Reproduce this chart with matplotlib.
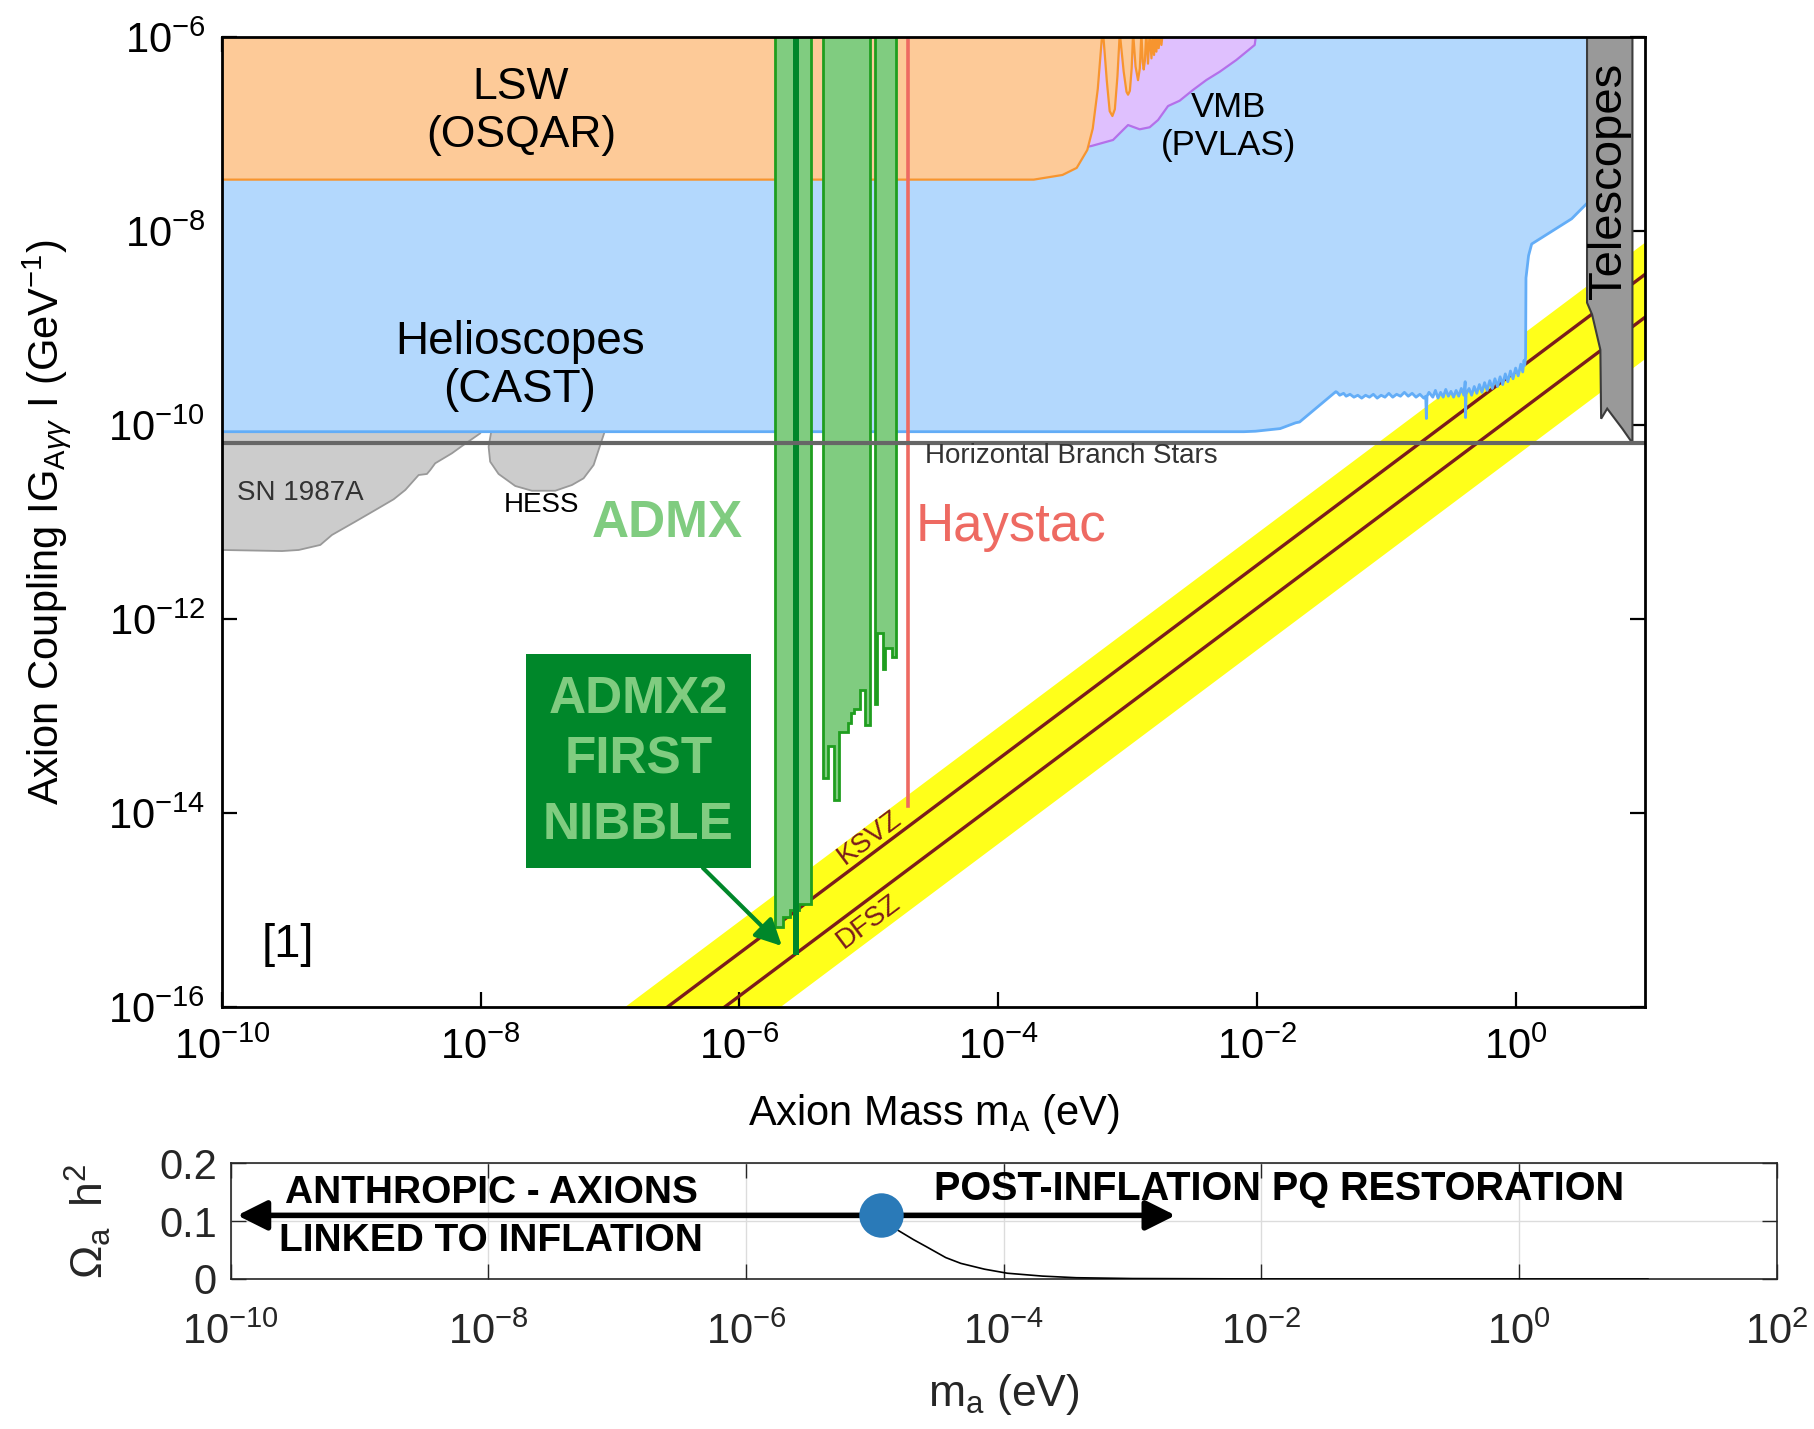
import numpy as np
import matplotlib
matplotlib.use("Agg")
import matplotlib.pyplot as plt
from matplotlib.patches import Polygon, Rectangle

plt.rcParams["font.family"] = ["Liberation Sans", "DejaVu Sans"]
plt.rcParams["mathtext.fontset"] = "custom"
plt.rcParams["mathtext.rm"] = "Liberation Sans"
plt.rcParams["mathtext.it"] = "Liberation Sans:italic"
plt.rcParams["mathtext.bf"] = "Liberation Sans:bold"
plt.rcParams["axes.unicode_minus"] = False

# ---------------- exclusion plot (log10 mass [eV], log10 coupling [1/GeV]) ----
mass_ticks = [1e-10, 1e-8, 1e-6, 1e-4, 1e-2, 1e0]
mass_tick_labels = [r"$10^{-10}$", r"$10^{-8}$", r"$10^{-6}$",
                    r"$10^{-4}$", r"$10^{-2}$", r"$10^{0}$"]
coupling_ticks = [1e-16, 1e-14, 1e-12, 1e-10, 1e-8, 1e-6]
coupling_tick_labels = [r"$10^{-16}$", r"$10^{-14}$", r"$10^{-12}$",
                        r"$10^{-10}$", r"$10^{-8}$", r"$10^{-6}$"]

# Light shining through wall (OSQAR) lower edge
lsw_logm = [-10.0, -3.725, -3.503, -3.393, -3.311, -3.269, -3.230, -3.199,
            -3.189, -3.160, -3.138, -3.117, -3.098, -3.078, -3.060,
            -3.030, -3.008, -2.996, -2.982, -2.968, -2.957,
            -2.938, -2.919, -2.905, -2.893,
            -2.883, -2.875, -2.866, -2.855,
            -2.842, -2.829, -2.815, -2.804, -2.795, -2.786,
            -2.777, -2.768, -2.759, -2.749, -2.738, -2.728, -2.718]
lsw_logg = [-7.466, -7.466, -7.418, -7.345, -7.160, -6.940, -6.531, -6.015,
            -5.95, -6.45, -6.76, -6.81, -6.74, -6.40, -5.95,
            -6.35, -6.56, -6.59, -6.55, -6.32, -5.95,
            -6.30, -6.44, -6.32, -5.95,
            -6.25, -6.33, -6.24, -5.95,
            -6.27, -5.95, -6.215, -5.95, -6.18, -5.95,
            -6.146, -5.95, -6.11, -5.95, -6.077, -5.95, -5.95]

# Vacuum magnetic birefringence (PVLAS) lower edge
vmb_logm = [-3.32, -3.279, -3.112, -3.035, -2.996, -2.906, -2.829, -2.764,
            -2.687, -2.597, -2.494, -2.390, -2.287, -2.159, -2.017, -2.004]
vmb_logg = [-7.13, -7.119, -7.057, -6.954, -6.903, -6.947, -6.926, -6.851,
            -6.707, -6.652, -6.541, -6.438, -6.353, -6.232, -6.077, -5.95]

# Helioscope (CAST) lower edge
cast_logm = [-10.0, -2.10, -2.01, -1.82, -1.70, -1.67, -1.39,
             -1.38, -1.36, -1.33, -1.31, -1.28, -1.25, -1.22, -1.19, -1.16,
             -1.13, -1.10, -1.07, -1.04, -1.01, -0.98, -0.95, -0.92, -0.89,
             -0.86, -0.83, -0.80, -0.77, -0.74, -0.71, -0.695, -0.69, -0.685,
             -0.67, -0.64, -0.62, -0.60, -0.58, -0.56, -0.54, -0.52, -0.50,
             -0.48, -0.46, -0.44, -0.42, -0.40, -0.39, -0.387, -0.383, -0.36,
             -0.34, -0.32, -0.30, -0.28, -0.26, -0.24, -0.22, -0.20, -0.18,
             -0.16, -0.14, -0.12, -0.10, -0.08, -0.06, -0.04, -0.02, 0.00,
             0.02, 0.04, 0.055, 0.065, 0.07, 0.077, 0.08, 0.10, 0.124,
             0.433, 0.552]
cast_logg = [-10.066, -10.066, -10.061, -10.034, -9.974, -9.966, -9.653,
             -9.66, -9.69, -9.67, -9.70, -9.68, -9.71, -9.69, -9.72, -9.69,
             -9.71, -9.68, -9.72, -9.69, -9.71, -9.67, -9.71, -9.68, -9.70,
             -9.66, -9.70, -9.67, -9.71, -9.68, -9.72, -9.70, -9.93, -9.70,
             -9.66, -9.71, -9.64, -9.72, -9.66, -9.71, -9.63, -9.70, -9.65,
             -9.71, -9.64, -9.70, -9.62, -9.69, -9.55, -9.92, -9.68, -9.62,
             -9.69, -9.60, -9.67, -9.58, -9.66, -9.56, -9.64, -9.54, -9.62,
             -9.52, -9.60, -9.50, -9.58, -9.47, -9.55, -9.44, -9.52, -9.41,
             -9.49, -9.37, -9.45, -9.33, -9.38, -9.30, -8.48, -8.25, -8.13,
             -7.87, -7.71]

# Telescope searches
tel_logm = [0.552, 0.552, 0.591, 0.655, 0.661, 0.708, 0.825, 0.889, 0.903, 0.903]
tel_logg = [-5.0, -8.735, -8.857, -9.220, -9.932, -9.828, -10.035, -10.157,
            -10.157, -5.0]

# SN 1987A and HESS astrophysical bounds
sn_logm = [-10.0, -9.536, -9.407, -9.240, -9.150, -8.970, -8.815, -8.673,
           -8.583, -8.480, -8.416, -8.390, -8.352, -8.223, -8.145, -8.004,
           -7.95, -10.0]
sn_logg = [-11.286, -11.297, -11.286, -11.234, -11.131, -10.994, -10.874,
           -10.763, -10.667, -10.513, -10.502, -10.461, -10.392, -10.289,
           -10.214, -10.083, -9.95, -9.95]
hess_logm = [-7.919, -7.939, -7.927, -7.862, -7.733, -7.604, -7.424, -7.295,
             -7.205, -7.127, -7.076, -7.042, -7.03, -7.93]
hess_logg = [-10.066, -10.221, -10.375, -10.502, -10.626, -10.675, -10.675,
             -10.616, -10.547, -10.409, -10.203, -10.066, -9.95, -9.95]

# Horizontal branch star bound
hb_coupling = 6.5e-11

# QCD axion model band and benchmark lines
band_mass = [1e-10, 10.0]
band_upper = [7.8e-20, 7.8e-9]
band_lower = [4.9e-21, 4.9e-10]
ksvz_coupling = [3.6e-20, 3.6e-9]
dfsz_coupling = [1.3e-20, 1.3e-9]

# ADMX excluded bands: step edges and floors
admx_bar_edges = [
    [-5.726, -5.662, -5.611, -5.540, -5.448],
    [-5.356, -5.315, -5.268, -5.230, -5.160, -5.139, -5.114, -5.070, -5.031, -4.992],
    [-4.954, -4.936, -4.894, -4.871, -4.817, -4.786],
]
admx_bar_floors = [
    [-15.17, -15.07, -15.00, -14.94],
    [-13.641, -13.308, -13.865, -13.160, -13.071, -12.964, -12.926, -12.730, -13.091],
    [-12.875, -12.139, -12.514, -12.300, -12.393],
]
admx2_edges = [-5.585, -5.540]
admx2_floor = -15.46
haystac_logm = -4.699
haystac_floor = -13.93

# ---------------- relic density panel ----------------
omega_mass_ticks = [1e-10, 1e-8, 1e-6, 1e-4, 1e-2, 1e0, 1e2]
omega_mass_labels = [r"$10^{-10}$", r"$10^{-8}$", r"$10^{-6}$", r"$10^{-4}$",
                     r"$10^{-2}$", r"$10^{0}$", r"$10^{2}$"]
omega_ticks = [0.0, 0.1, 0.2]
omega_tick_labels = ["0", "0.1", "0.2"]
curve_logm = [-4.951, -4.827, -4.70, -4.602, -4.45, -4.333, -4.15, -3.973,
              -3.70, -3.437, -3.0, -2.0, -1.0, 0.0, 1.0]
curve_omega = [0.110, 0.085, 0.068, 0.056, 0.037, 0.027, 0.017, 0.010,
               0.005, 0.0022, 0.0008, 0.0001, 0.0, 0.0, 0.0]
marker_logm = -4.951
marker_omega = 0.11
arrow_logm = [-9.949, -2.667]
arrow_omega = 0.11


def pts(logm, logg):
    return np.column_stack([10.0 ** np.asarray(logm), 10.0 ** np.asarray(logg)])


def closed_above(logm, logg, top=-5.0):
    m = list(logm) + [logm[-1], logm[0]]
    g = list(logg) + [top, top]
    return pts(m, g)


def step_bar(edges, floors, top=-5.0):
    m = [edges[0]]
    g = [top]
    for i, f in enumerate(floors):
        m += [edges[i], edges[i + 1]]
        g += [f, f]
    m.append(edges[-1])
    g.append(top)
    return pts(m, g)


fig = plt.figure(figsize=(18.15, 14.29), dpi=100)
ax = fig.add_axes([0.12231, 0.29531, 0.78402, 0.67845])
ax.set_xscale("log")
ax.set_yscale("log")
ax.set_xlim(1e-10, 10.0)
ax.set_ylim(1e-16, 1e-6)

C_BLUE, C_BLUE_E = "#b3d8fd", "#63adf7"
C_ORANGE, C_ORANGE_E = "#fdca98", "#f7952f"
C_PURPLE, C_PURPLE_E = "#dfc0fe", "#b470ea"
C_GREEN, C_GREEN_E, C_DGREEN = "#80cc80", "#1f9e1f", "#00872a"

# model band
ax.fill_between(band_mass, band_lower, band_upper, color="#ffff1a", lw=0, zorder=1)
ax.plot(band_mass, ksvz_coupling, color="#7b1c1c", lw=2.4, zorder=2)
ax.plot(band_mass, dfsz_coupling, color="#7b1c1c", lw=2.4, zorder=2)

# astrophysics
ax.add_patch(Polygon(pts(sn_logm, sn_logg), closed=True, fc="#cccccc",
                     ec="#999999", lw=1.3, zorder=3))
ax.add_patch(Polygon(pts(hess_logm, hess_logg), closed=True, fc="#cccccc",
                     ec="#999999", lw=1.3, zorder=3))

# helioscopes
ax.add_patch(Polygon(closed_above(cast_logm, cast_logg), closed=True,
                     fc=C_BLUE, ec="none", zorder=4))
ax.plot(10.0 ** np.array(cast_logm), 10.0 ** np.array(cast_logg),
        color=C_BLUE_E, lw=2.0, zorder=4.1)

# VMB
ax.add_patch(Polygon(closed_above(vmb_logm, vmb_logg), closed=True,
                     fc=C_PURPLE, ec="none", zorder=5))
ax.plot(10.0 ** np.array(vmb_logm), 10.0 ** np.array(vmb_logg),
        color=C_PURPLE_E, lw=1.6, zorder=5.1)

# LSW
ax.add_patch(Polygon(closed_above(lsw_logm, lsw_logg), closed=True,
                     fc=C_ORANGE, ec="none", zorder=6))
ax.plot(10.0 ** np.array(lsw_logm), 10.0 ** np.array(lsw_logg),
        color=C_ORANGE_E, lw=1.6, zorder=6.1)

# telescopes
ax.add_patch(Polygon(pts(tel_logm, tel_logg), closed=True, fc="#999999",
                     ec="#3c3c3c", lw=1.5, zorder=7))

# ADMX
for edges, floors in zip(admx_bar_edges, admx_bar_floors):
    ax.add_patch(Polygon(step_bar(edges, floors), closed=True, fc=C_GREEN,
                         ec=C_GREEN_E, lw=2.0, zorder=8))
ax.add_patch(Polygon(step_bar(admx2_edges, [admx2_floor]), closed=True,
                     fc=C_DGREEN, ec="none", zorder=8.5))

# HAYSTAC
ax.plot([10 ** haystac_logm] * 2, [10 ** haystac_floor, 1e-5],
        color="#ee6a62", lw=2.6, zorder=9)

# horizontal branch line
ax.axhline(hb_coupling, color="#666666", lw=3.0, zorder=10)

# axes styling
ax.set_xticks(mass_ticks)
ax.set_xticklabels(mass_tick_labels)
ax.set_yticks(coupling_ticks)
ax.set_yticklabels(coupling_tick_labels)
ax.minorticks_off()
ax.tick_params(which="both", direction="in", top=True, right=True,
               length=11, width=1.6, labelsize=30, color="k")
ax.tick_params(axis="x", pad=15)
ax.tick_params(axis="y", pad=12)
for s in ax.spines.values():
    s.set_linewidth(2.0)
    s.set_zorder(20)
ax.set_xlabel(r"Axion Mass m$_{\mathrm{A}}$ (eV)", fontsize=30)
ax.xaxis.set_label_coords(0.5, -0.088)
ax.set_ylabel(r"Axion Coupling IG$_{\mathrm{A}\gamma\gamma}$ I (GeV$^{-1}$)",
              fontsize=30)
ax.yaxis.set_label_coords(-0.105, 0.5)

# region labels
def lab(logm, logg, s, **kw):
    ax.text(10 ** logm, 10 ** logg, s, ha="center", va="center", zorder=15, **kw)

lab(-7.689, -6.52, "LSW", fontsize=32)
lab(-7.689, -7.01, "(OSQAR)", fontsize=32)
lab(-7.697, -9.14, "Helioscopes", fontsize=33)
lab(-7.697, -9.635, "(CAST)", fontsize=33)
lab(-2.218, -6.717, "VMB", fontsize=25)
lab(-2.218, -7.109, "(PVLAS)", fontsize=25)
lab(0.719, -7.480, "Telescopes", fontsize=34, rotation=90)
lab(-9.397, -10.698, "SN 1987A", fontsize=20, color="#333333")
lab(-7.527, -10.822, "HESS", fontsize=20, color="k")
lab(-6.561, -11.018, "ADMX", fontsize=37, fontweight="bold", color=C_GREEN)
lab(-3.903, -11.049, "Haystac", fontsize=38, color="#ee6a62")
lab(-4.992, -14.257, "KSVZ", fontsize=20, color="#7b1c1c", rotation=36.8,
    rotation_mode="anchor")
lab(-5.0, -15.124, "DFSZ", fontsize=20, color="#7b1c1c", rotation=36.8,
    rotation_mode="anchor")
ax.text(10 ** -4.567, 10 ** -10.317, "Horizontal Branch Stars", fontsize=20,
        color="#333333", ha="left", va="center", zorder=15)
ax.text(0.0464, 0.064, "[1]", transform=ax.transAxes, fontsize=34,
        ha="center", va="center", zorder=15)

# ADMX2 call-out box
ax.add_patch(Rectangle((0.2136, 0.1434), 0.1582, 0.2207, transform=ax.transAxes,
                       fc=C_DGREEN, ec="none", zorder=16))
for txt, yy in zip(["ADMX2", "FIRST", "NIBBLE"], [0.3167, 0.2548, 0.1867]):
    ax.text(0.2927, yy, txt, transform=ax.transAxes, fontsize=37,
            fontweight="bold", color=C_GREEN, ha="center", va="center", zorder=17)
ax.annotate("", xy=(10 ** -5.672, 10 ** -15.371), xytext=(0.338, 0.1434),
            textcoords="axes fraction",
            arrowprops=dict(arrowstyle="-|>", color=C_DGREEN, lw=3,
                            mutation_scale=40, shrinkA=0, shrinkB=0),
            zorder=17)

# ---------------- relic density panel ----------------
ax2 = fig.add_axes([0.12711, 0.10497, 0.85184, 0.08096])
ax2.set_xscale("log")
ax2.set_xlim(1e-10, 1e2)
ax2.set_ylim(0, 0.2)
ax2.set_xticks(omega_mass_ticks)
ax2.set_xticklabels(omega_mass_labels)
ax2.set_yticks(omega_ticks)
ax2.set_yticklabels(omega_tick_labels)
ax2.minorticks_off()
ax2.grid(True, color="#dcdcdc", lw=1.0)
ax2.set_axisbelow(True)
ax2.tick_params(which="both", direction="in", top=True, right=True, length=11,
                width=1.0, color="#262626", labelsize=30, labelcolor="#262626")
ax2.tick_params(axis="x", pad=24)
ax2.tick_params(axis="y", pad=10)
for s in ax2.spines.values():
    s.set_color("#262626")
    s.set_linewidth(1.2)

ax2.plot(10.0 ** np.array(curve_logm), curve_omega, color="k", lw=1.2, zorder=3)
ax2.annotate("", xy=(10 ** arrow_logm[0], arrow_omega),
             xytext=(10 ** arrow_logm[1], arrow_omega),
             arrowprops=dict(arrowstyle="<|-|>", color="k", lw=4,
                             mutation_scale=45, shrinkA=0, shrinkB=0), zorder=4)
ax2.plot(10 ** marker_logm, marker_omega, "o", ms=32, color="#2a7ab8",
         mec="none", zorder=5, clip_on=False)
ax2.text(10 ** -7.98, 0.149, "ANTHROPIC - AXIONS", fontsize=28,
         fontweight="bold", ha="center", va="center", zorder=6)
ax2.text(10 ** -7.98, 0.066, "LINKED TO INFLATION", fontsize=28,
         fontweight="bold", ha="center", va="center", zorder=6)
ax2.text(10 ** -1.86, 0.156, "POST-INFLATION PQ RESTORATION", fontsize=28.5,
         fontweight="bold", ha="center", va="center", zorder=6)
ax2.set_xlabel(r"m$_{\mathrm{a}}$ (eV)", fontsize=32, color="#262626")
ax2.xaxis.set_label_coords(0.5, -0.80)
ax2.set_ylabel(r"$\Omega_{\mathrm{a}}\;\;\mathrm{h}^{2}$", fontsize=32,
               color="#262626")
ax2.yaxis.set_label_coords(-0.076, 0.5)

fig.savefig("out.png", dpi=100)
